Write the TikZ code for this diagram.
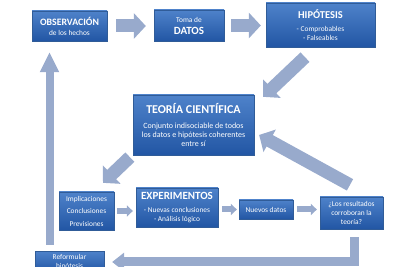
\documentclass[tikz,border=0pt]{standalone}
\usepackage{fontspec}
\setmainfont{Carlito}
\usetikzlibrary{arrows.meta, calc, shadows, backgrounds}
\definecolor{boxtop}  {RGB}{78, 130, 202}
\definecolor{boxbot}  {RGB}{34,  86, 164}
\definecolor{boxedge} {RGB}{48,  92, 152}
\definecolor{arrowclr}{RGB}{152, 170, 204}

\newcommand{\ttlfont}[1]{\fontsize{#1}{#1}\selectfont\bfseries}
\newcommand{\smlfont}{\fontsize{7.4}{9}\selectfont}

\begin{document}
\begin{tikzpicture}[x=1pt, y=1pt,
  box/.style={rectangle, top color=boxtop, bottom color=boxbot, draw=boxedge,
    line width=0.3pt, text=white, align=center, inner sep=1pt, font=\smlfont,
    drop shadow={opacity=0.35, shadow xshift=1pt, shadow yshift=-1.5pt}},
  bigarrow/.style={arrowclr, line width=13pt, -{Triangle[width=25pt, length=12pt]}},
  slimarrow/.style={arrowclr, line width=8pt, -{Triangle[width=18pt, length=20pt]}},
  elbowarrow/.style={arrowclr, line width=9pt, line join=miter, -{Triangle[width=18pt, length=12pt]}},
  tinyarrow/.style={arrowclr, line width=6pt, -{Triangle[width=11pt, length=6pt]}}]
  \useasboundingbox (0,0) rectangle (400,267);
  % top row
  \node[box, minimum width=75pt, minimum height=30pt] (obs) at (69.5,241)
    {{\ttlfont{9.8}OBSERVACIÓN}\\[1pt]de los hechos};
  \node[box, minimum width=70pt, minimum height=31pt] (datos) at (189,241.5)
    {Toma de\\[3pt]{\ttlfont{11}DATOS}};
  \node[box, minimum width=109pt, minimum height=44pt] (hip) at (320.5,242)
    {{\ttlfont{10.5}HIPÓTESIS}\\[4pt]- Comprobables\\- Falseables};
  % theory
  \node[box, minimum width=121pt, minimum height=60pt, font=\fontsize{8}{9.3}\selectfont] (teoria) at (193.5,142)
    {{\ttlfont{12}TEORÍA CIENTÍFICA}\\[6pt]Conjunto indisociable de todos\\los datos e hipótesis coherentes\\entre sí};
  % bottom row
  \node[box, minimum width=55pt, minimum height=38pt] (impl) at (86.5,56)
    {Implicaciones\\[3.5pt]Conclusiones\\[3.5pt]Previsiones};
  \node[box, minimum width=82pt, minimum height=39pt] (exp) at (177,59.5)
    {{\ttlfont{11}EXPERIMENTOS}\\[4pt]- Nuevas conclusiones\\- Análisis lógico};
  \node[box, minimum width=54pt, minimum height=19pt] (nuevos) at (266,57.5)
    {Nuevos datos};
  \node[box, minimum width=63pt, minimum height=32pt] (res) at (351.5,54)
    {¿Los resultados\\corroboran la\\teoría?};
  \node[box, minimum width=69pt, inner ysep=3pt, anchor=north] (reform) at (69.5,16)
    {Reformular\\hipótesis};
  % arrows
  \begin{scope}[on background layer]
    \draw[bigarrow, shorten <=9pt, shorten >=8pt] (obs.east) -- (obs.east -| datos.west);
    \draw[bigarrow, shorten <=7pt, shorten >=5pt] (datos.east) -- (datos.east -| hip.west);
    \draw[bigarrow] ([shift={(-15.5,-10)}]hip.south) -- ([shift={(9,-2)}]teoria.north east);
    \draw[bigarrow] ([shift={(-1.5,12)}]res.north) -- ([shift={(5,-10)}]teoria.east);
    \draw[bigarrow] ([shift={(-3,-2)}]teoria.south west) -- ([shift={(16.5,9)}]impl.north);
    \draw[tinyarrow, shorten <=3pt, shorten >=3pt] (impl.east) -- (impl.east -| exp.west);
    \draw[tinyarrow, shorten <=4pt, shorten >=2pt] (nuevos.west -| exp.east) -- (nuevos.west);
    \draw[tinyarrow, shorten <=4pt, shorten >=3pt] (nuevos.east) -- (nuevos.east -| res.west);
    \draw[elbowarrow, shorten >=8pt] ([shift={(2.5,-8)}]res.south) |- ([yshift=-11pt]reform.north east);
    \draw[slimarrow] ([shift={(-20,6)}]reform.north) -- ([shift={(-20,-11)}]obs.south);
  \end{scope}
\end{tikzpicture}
\end{document}
